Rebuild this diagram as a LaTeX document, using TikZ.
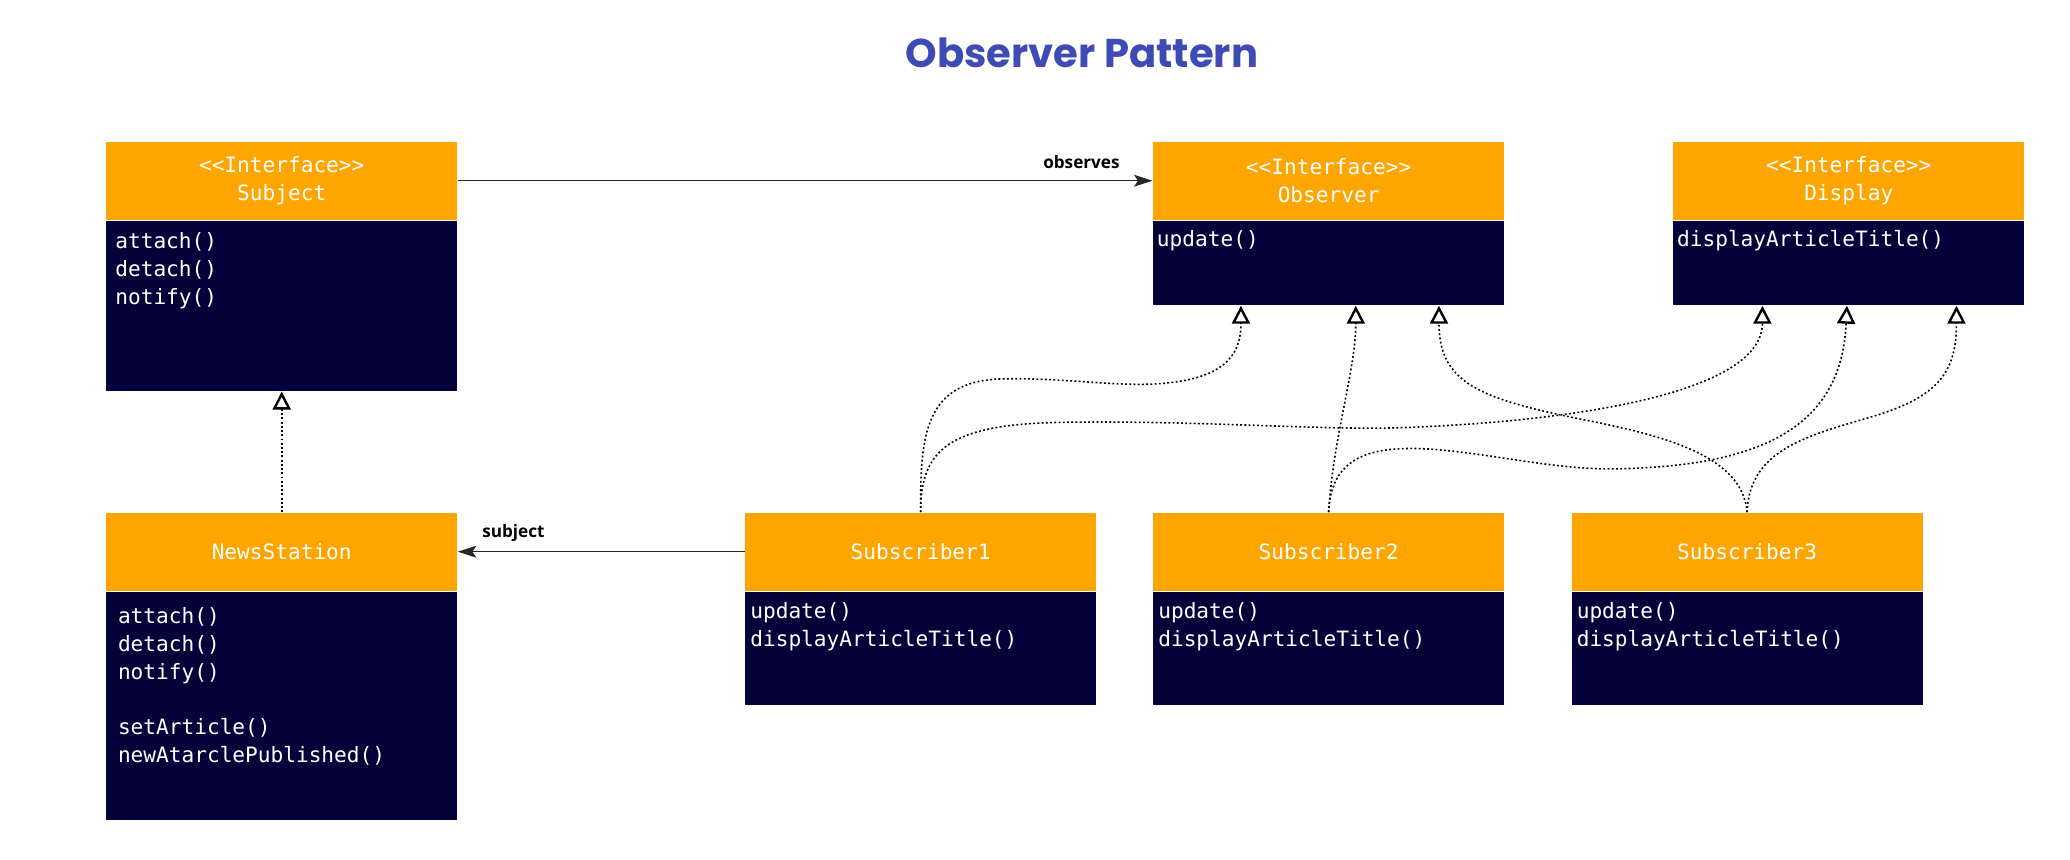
\documentclass[tikz,border=0pt]{standalone}
\usepackage{fontspec}
\newfontfamily\monof{DejaVu Sans Mono}
\newfontfamily\titlef{Poppins}
\newfontfamily\lblf{Open Sans}
\usetikzlibrary{arrows.meta,calc}
\definecolor{hdr}{HTML}{FFA500}
\definecolor{bdy}{HTML}{05023A}
\definecolor{ttl}{HTML}{3F4BB5}
\begin{document}
\begin{tikzpicture}[x=0.5pt,y=-0.5pt,
  hbox/.style={fill=hdr, draw=none, minimum width=133pt, minimum height=29.5pt, inner sep=0pt, anchor=north west, text=white, font=\monof\fontsize{8}{10.5}\selectfont, align=center},
  bbox/.style={fill=bdy, draw=none, minimum width=133pt, inner sep=0pt, anchor=north west},
  btext/.style={anchor=north west, inner sep=0pt, text=white, font=\monof\fontsize{8}{10.5}\selectfont, align=left},
  real/.style={draw=black, line width=0.6pt, dash pattern=on 0.7pt off 0.9pt, -{Triangle[open, length=6.8pt, width=6.8pt, line width=0.9pt]}},
  assoc/.style={draw=black!85, line width=0.5pt, -{Stealth[length=7pt, width=4.5pt, inset=1.5pt]}},
  lbl/.style={font=\lblf\bfseries\fontsize{6.5}{7}\selectfont, inner sep=0pt, text=black}
]
\useasboundingbox (0,0) rectangle (1568,650.7);
\node[font=\titlef\bfseries\fontsize{15.2}{18}\selectfont, text=ttl, anchor=base, inner sep=0pt] (title) at (819.5,51.5) {Observer Pattern};

% Subject
\node[hbox] (subjH) at (80,107) {<{}<Interface>{}>\\Subject};
\node[bbox, minimum height=64.5pt] (subjB) at (subjH.south west) {};
\node[btext] (subjT) at ($(subjB.north west)+(7,9)$) {attach()\\detach()\\notify()};
% Observer
\node[hbox] (obsH) at (873,107) {<{}<Interface>{}>\\Observer};
\node[bbox, minimum height=32pt] (obsB) at (obsH.south west) {};
\node[btext] (obsT) at ($(obsB.north west)+(3,7)$) {update()};
% Display
\node[hbox] (dispH) at (1267,107) {<{}<Interface>{}>\\Display};
\node[bbox, minimum height=32pt] (dispB) at (dispH.south west) {};
\node[btext] (dispT) at ($(dispB.north west)+(3,7)$) {displayArticleTitle()};
% NewsStation
\node[hbox] (newsH) at (80,388) {NewsStation};
\node[bbox, minimum height=86.5pt] (newsB) at (newsH.south west) {};
\node[btext] (newsT) at ($(newsB.north west)+(9,12)$) {attach()\\detach()\\notify()\\[10.5pt]setArticle()\\newAtarclePublished()};
% Subscribers
\node[hbox] (sub1H) at (564,388) {Subscriber1};
\node[bbox, minimum height=43pt] (sub1B) at (sub1H.south west) {};
\node[btext] (sub1T) at ($(sub1B.north west)+(4,8)$) {update()\\displayArticleTitle()};
\node[hbox] (sub2H) at (873,388) {Subscriber2};
\node[bbox, minimum height=43pt] (sub2B) at (sub2H.south west) {};
\node[btext] (sub2T) at ($(sub2B.north west)+(4,8)$) {update()\\displayArticleTitle()};
\node[hbox] (sub3H) at (1190,388) {Subscriber3};
\node[bbox, minimum height=43pt] (sub3B) at (sub3H.south west) {};
\node[btext] (sub3T) at ($(sub3B.north west)+(4,8)$) {update()\\displayArticleTitle()};

% targets
\coordinate (oA) at ($(obsB.south west)+(67,0)$);
\coordinate (oB) at ($(obsB.south west)+(154,0)$);
\coordinate (oC) at ($(obsB.south west)+(217,0)$);
\coordinate (dA) at ($(dispB.south west)+(68,0)$);
\coordinate (dB) at ($(dispB.south west)+(132,0)$);
\coordinate (dC) at ($(dispB.south west)+(215,0)$);

% associations
\draw[assoc] (subjH.east) -- (obsH.west) node[lbl, pos=1, anchor=base east, xshift=-12.2pt, yshift=4.6pt] (lobs) {observes};
\draw[assoc] (sub1H.west) -- (newsH.east) node[lbl, pos=1, anchor=base west, xshift=9pt, yshift=5.5pt] (lsubj) {subject};

% realizations
\draw[real] (newsH.north) -- (subjB.south);
\draw[real] (sub1H.north) .. controls (697,330) and (700,288) .. (760,287) .. controls (810,286) and (850,294) .. (885,290) .. controls (932,285) and (940,265) .. (oA);
\draw[real] (sub1H.north) .. controls (697,340) and (720,322) .. (800,320) .. controls (900,318) and (1000,326) .. (1060,324) .. controls (1180,320) and (1335,300) .. (dA);
\draw[real] (sub2H.north) .. controls (1010,330) and (1027,280) .. (oB);
\draw[real] (sub2H.north) .. controls (1008,345) and (1040,338) .. (1080,340) .. controls (1130,343) and (1180,357) .. (1230,355) .. controls (1340,352) and (1395,320) .. (dB);
\draw[real] (sub3H.north) .. controls (1320,345) and (1260,330) .. (1200,318) .. controls (1120,302) and (1090,290) .. (oC);
\draw[real] (sub3H.north) .. controls (1325,340) and (1370,330) .. (1420,315) .. controls (1470,300) and (1482,280) .. (dC);
\end{tikzpicture}
\end{document}
